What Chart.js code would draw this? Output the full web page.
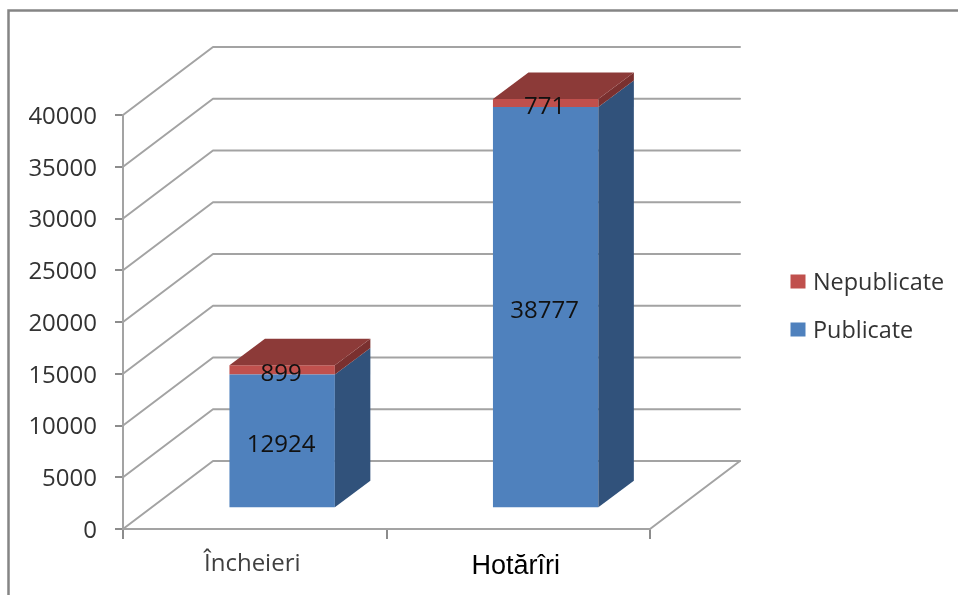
<!DOCTYPE html>
<html>
<head>
<meta charset="utf-8">
<script src="https://cdn.jsdelivr.net/npm/chart.js@4"></script>
<style>
  html, body { margin: 0; padding: 0; background: #fff; }
  #wrap { width: 958px; height: 595px; position: relative; overflow: hidden; }
  #chart { filter: blur(0.45px); }
</style>
</head>
<body>
<div id="wrap"><canvas id="chart" width="958" height="595"></canvas></div>
<script>
// Datele graficului
const categories = ['Încheieri', 'Hotărîri'];
const publicate = [12924, 38777];
const nepublicate = [899, 771];
const seriesNames = ['Publicate', 'Nepublicate'];

const FONT = "'Open Sans', sans-serif";
const LINE = '#a3a3a3';
const AXIS = '#8c8c8c';

// Adancimea 3D: peretele din spate si pozitia barelor pe podea
const WALL = { dx: 90, dy: -68 };
const BAR_OFFSET = { dx: 27.4, dy: -20.7 };
const BAR_DEPTH = { dx: 35.5, dy: -26.5 };

function quad(ctx, pts, color) {
  ctx.fillStyle = color;
  ctx.beginPath();
  pts.forEach((p, i) => (i ? ctx.lineTo(p[0], p[1]) : ctx.moveTo(p[0], p[1])));
  ctx.closePath();
  ctx.fill();
}

const threeD = {
  id: 'threeD',
  beforeDraw(chart) {
    // Chenarul imaginii (doar sus si stanga)
    const ctx = chart.ctx;
    ctx.save();
    ctx.strokeStyle = '#858585';
    ctx.lineWidth = 2.5;
    ctx.beginPath();
    ctx.moveTo(8.5, 595);
    ctx.lineTo(8.5, 10.5);
    ctx.lineTo(958, 10.5);
    ctx.stroke();
    ctx.restore();
  },
  beforeDatasetsDraw(chart) {
    const { ctx, scales, chartArea } = chart;
    ctx.save();
    ctx.strokeStyle = LINE;
    ctx.lineWidth = 2;
    ctx.lineCap = 'round';
    ctx.lineJoin = 'round';
    // Linii de grila: diagonala pe peretele lateral + linia de pe peretele din spate
    scales.y.ticks.forEach(t => {
      const y = scales.y.getPixelForValue(t.value);
      ctx.beginPath();
      ctx.moveTo(chartArea.left, y);
      ctx.lineTo(chartArea.left + WALL.dx, y + WALL.dy);
      ctx.lineTo(chartArea.right + WALL.dx, y + WALL.dy);
      ctx.stroke();
    });
    // Marginea din dreapta a podelei
    ctx.beginPath();
    ctx.moveTo(chartArea.right + WALL.dx, chartArea.bottom + WALL.dy);
    ctx.lineTo(chartArea.right, chartArea.bottom);
    ctx.stroke();
    ctx.restore();

    // Barele se deseneaza deplasate pe podea
    ctx.save();
    ctx.translate(BAR_OFFSET.dx, BAR_OFFSET.dy);
  },
  afterDatasetsDraw(chart) {
    const ctx = chart.ctx;
    ctx.restore();

    // Fetele laterale si capacul
    ctx.save();
    ctx.translate(BAR_OFFSET.dx, BAR_OFFSET.dy);
    chart.data.datasets.forEach((ds, i) => {
      chart.getDatasetMeta(i).data.forEach(bar => {
        const r = bar.x + bar.width / 2;
        const l = bar.x - bar.width / 2;
        const d = BAR_DEPTH;
        quad(ctx, [[r, bar.y], [r + d.dx, bar.y + d.dy], [r + d.dx, bar.base + d.dy], [r, bar.base]], ds.sideColor);
        if (i === chart.data.datasets.length - 1) {
          quad(ctx, [[l, bar.y], [l + d.dx, bar.y + d.dy], [r + d.dx, bar.y + d.dy], [r, bar.y]], ds.topColor);
        }
      });
    });

    // Etichetele valorilor
    ctx.fillStyle = '#111';
    ctx.font = '24px ' + FONT;
    ctx.textAlign = 'center';
    ctx.textBaseline = 'middle';
    chart.data.datasets.forEach((ds, i) => {
      chart.getDatasetMeta(i).data.forEach((bar, j) => {
        ctx.fillText(String(ds.data[j]), bar.x - 1, (bar.y + bar.base) / 2 + 4);
      });
    });
    ctx.restore();

    // Legenda, in ordine inversa
    ctx.save();
    ctx.font = '23.4px ' + FONT;
    ctx.textBaseline = 'middle';
    ctx.textAlign = 'left';
    const ds = chart.data.datasets;
    [ds[1], ds[0]].forEach((item, i) => {
      const y = 282 + i * 48;
      ctx.fillStyle = item.backgroundColor;
      ctx.fillRect(790.5, y - 7.5, 15, 14);
      ctx.fillStyle = '#333';
      ctx.fillText(item.label, 813, y + 1);
    });
    ctx.restore();
  }
};

new Chart(document.getElementById('chart'), {
  type: 'bar',
  data: {
    labels: categories,
    datasets: [
      {
        label: seriesNames[0],
        data: publicate,
        backgroundColor: '#4f81bd',
        sideColor: '#31527b',
        topColor: '#3f6797',
        clip: false
      },
      {
        label: seriesNames[1],
        data: nepublicate,
        backgroundColor: '#c0504d',
        sideColor: '#7a302f',
        topColor: '#8c3a38',
        clip: false
      }
    ]
  },
  options: {
    responsive: false,
    animation: false,
    events: [],
    barPercentage: 0.4,
    categoryPercentage: 1,
    layout: { padding: { top: 115, right: 308, bottom: 0, left: 0 } },
    plugins: {
      legend: { display: false },
      tooltip: { enabled: false }
    },
    scales: {
      x: {
        stacked: true,
        afterFit(scale) { scale.height = 66; },
        grid: { drawOnChartArea: false, color: AXIS, lineWidth: 2, tickLength: 10 },
        border: { display: true, color: LINE, width: 2 },
        ticks: {
          maxRotation: 0,
          padding: 11,
          labelOffset: -2.5,
          color: ctx => (ctx.index === 1 ? '#000' : '#404040'),
          font: ctx => (ctx.index === 1
            ? { family: "'Liberation Sans', sans-serif", size: 27 }
            : { family: FONT, size: 24 })
        }
      },
      y: {
        stacked: true,
        min: 0,
        max: 40000,
        afterFit(scale) { scale.width = 123; },
        grid: { drawOnChartArea: false, color: AXIS, lineWidth: 2, tickLength: 8 },
        border: { display: true, color: LINE, width: 2 },
        ticks: {
          stepSize: 5000,
          padding: 18,
          labelOffset: 2,
          color: '#333',
          font: { family: FONT, size: 24 },
          callback: value => String(value)
        }
      }
    }
  },
  plugins: [threeD]
});
</script>
</body>
</html>
